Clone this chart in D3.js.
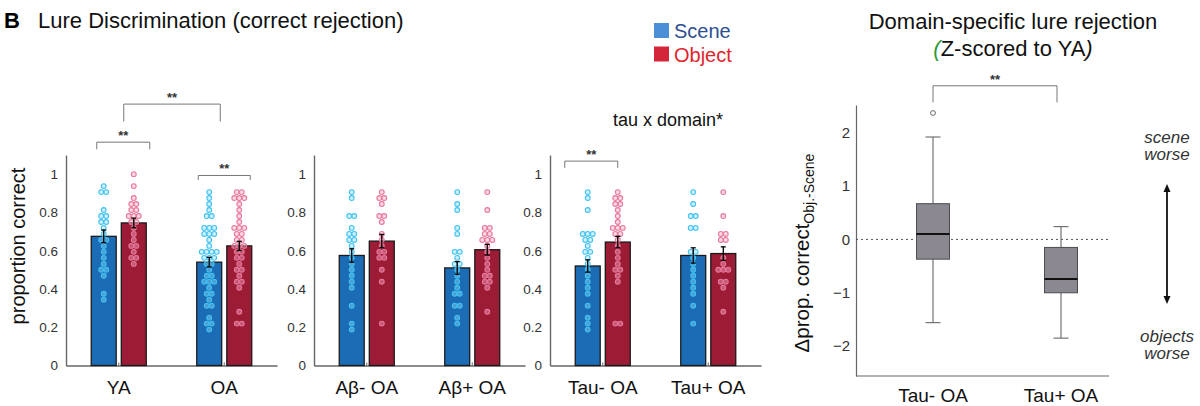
<!DOCTYPE html>
<html>
<head>
<meta charset="utf-8">
<script src="https://cdn.jsdelivr.net/npm/d3@7"></script>
<style>
  body { margin: 0; background: #fff; }
  svg { font-family: "Liberation Sans", Arial, sans-serif; }
</style>
</head>
<body>
<svg id="chart" width="1200" height="406"></svg>
<script>
// ---- data ----
const domains = ["Scene", "Object"];
const panelGroups = [["YA", "OA"], ["Aβ- OA", "Aβ+ OA"], ["Tau- OA", "Tau+ OA"]];
const sceneMeans  = [0.675, 0.54, 0.575, 0.51, 0.52, 0.575];
const objectMeans = [0.745, 0.625, 0.65, 0.605, 0.645, 0.585];
const sceneSem  = [0.033, 0.025, 0.035, 0.033, 0.032, 0.04];
const objectSem = [0.025, 0.024, 0.035, 0.028, 0.03, 0.035];

const sceneDots = [
  [0.9375, 0.906, 0.906, 0.8125, 0.781, 0.781, 0.75, 0.75, 0.719, 0.6875, 0.656, 0.656, 0.625, 0.594, 0.5625, 0.531, 0.5, 0.5, 0.469, 0.375, 0.344],
  [0.906, 0.875, 0.844, 0.8125, 0.781, 0.781, 0.719, 0.719, 0.719, 0.6875, 0.6875, 0.6875, 0.656, 0.625, 0.594, 0.594, 0.594, 0.594, 0.5625, 0.5625, 0.5625, 0.531, 0.531, 0.5, 0.469, 0.469, 0.438, 0.438, 0.438, 0.406, 0.375, 0.375, 0.344, 0.3125, 0.3125, 0.25, 0.219, 0.219, 0.1875],
  [0.906, 0.875, 0.781, 0.781, 0.719, 0.6875, 0.6875, 0.656, 0.656, 0.625, 0.594, 0.5625, 0.531, 0.5, 0.469, 0.438, 0.406, 0.3125, 0.219, 0.1875],
  [0.906, 0.844, 0.8125, 0.719, 0.6875, 0.594, 0.594, 0.5625, 0.531, 0.531, 0.5, 0.469, 0.438, 0.406, 0.375, 0.375, 0.3125, 0.3125, 0.25, 0.219],
  [0.906, 0.875, 0.8125, 0.6875, 0.6875, 0.6875, 0.656, 0.656, 0.625, 0.594, 0.594, 0.5625, 0.531, 0.5, 0.469, 0.438, 0.406, 0.375, 0.3125, 0.25, 0.219, 0.1875],
  [0.906, 0.844, 0.781, 0.781, 0.719, 0.719, 0.594, 0.594, 0.5625, 0.531, 0.5, 0.469, 0.438, 0.406, 0.375, 0.3125, 0.219]
];
const objectDots = [
  [1.0, 0.9375, 0.875, 0.844, 0.844, 0.8125, 0.8125, 0.781, 0.781, 0.781, 0.75, 0.75, 0.719, 0.6875, 0.656, 0.625, 0.625, 0.594, 0.5625, 0.5625, 0.531],
  [0.906, 0.906, 0.875, 0.875, 0.875, 0.844, 0.8125, 0.781, 0.75, 0.719, 0.719, 0.719, 0.6875, 0.6875, 0.656, 0.656, 0.625, 0.625, 0.625, 0.594, 0.594, 0.5625, 0.5625, 0.531, 0.5, 0.5, 0.469, 0.438, 0.438, 0.406, 0.281, 0.219, 0.219],
  [0.906, 0.875, 0.875, 0.844, 0.781, 0.781, 0.75, 0.6875, 0.656, 0.625, 0.594, 0.594, 0.5625, 0.5625, 0.5, 0.438, 0.219],
  [0.906, 0.8125, 0.719, 0.719, 0.6875, 0.6875, 0.656, 0.656, 0.656, 0.625, 0.594, 0.5625, 0.531, 0.5, 0.469, 0.469, 0.438, 0.438, 0.406, 0.281],
  [0.906, 0.875, 0.875, 0.844, 0.844, 0.8125, 0.781, 0.75, 0.719, 0.719, 0.719, 0.6875, 0.6875, 0.656, 0.625, 0.594, 0.5625, 0.531, 0.5, 0.5, 0.469, 0.438, 0.219, 0.219],
  [0.906, 0.781, 0.6875, 0.6875, 0.656, 0.656, 0.5625, 0.531, 0.5, 0.5, 0.5, 0.438, 0.438, 0.406, 0.281]
];
const yTicks = [0, 0.2, 0.4, 0.6, 0.8, 1];

// box plot panel
const boxGroups = ["Tau- OA", "Tau+ OA"];
const boxLow    = [-1.56, -1.85];
const boxQ1     = [-0.37, -1.0];
const boxMedian = [0.1, -0.74];
const boxQ3     = [0.67, -0.15];
const boxHigh   = [1.92, 0.24];
const boxOutliers = [[2.37], []];
const boxTicks = [-2, -1, 0, 1, 2];

// ---- layout ----
const svg = d3.select("#chart");
const colors = {
  bar: { Scene: "#1b6cb5", Object: "#9c1b35" },
  dot: { Scene: "#3fc2f2", Object: "#e8779b" },
  dotFill: { Scene: "#93dbf7", Object: "#f3abc1" },
  axis: "#666"
};
const panelX = [66, 314, 550];
const panelW = 211;
const y = d3.scaleLinear().domain([0, 1.1]).range([365.5, 155]);

// significance brackets (offsets from group centres)
const brackets = [
  { panel: 0, a: "YA", oa: -22, b: "YA", ob: 31, top: 1.167, drop: 1.13 },
  { panel: 0, a: "YA", oa: 5, b: "OA", ob: -4, top: 1.366, drop: 1.275 },
  { panel: 0, a: "OA", oa: -26, b: "OA", ob: 26, top: 0.993, drop: 0.97 },
  { panel: 2, a: "Tau- OA", oa: -38, b: "Tau- OA", ob: 15, top: 1.068, drop: 1.033 }
];

// title + legend
svg.append("text").attr("x", 4).attr("y", 28).attr("font-size", 22).attr("font-weight", "bold").text("B");
svg.append("text").attr("x", 38).attr("y", 28).attr("font-size", 22).attr("fill", "#111")
  .text("Lure Discrimination (correct rejection)");

const legend = svg.append("g").attr("transform", "translate(654,23)");
const legendSq = { Scene: "#4b8fd7", Object: "#d3263a" };
const legendTx = { Scene: "#2f4f92", Object: "#e2242c" };
domains.forEach((d, i) => {
  legend.append("rect").attr("x", 0).attr("y", i * 23.5).attr("width", 15).attr("height", 15).attr("fill", legendSq[d]);
  legend.append("text").attr("x", 20).attr("y", i * 23.5 + 15).attr("font-size", 20).attr("fill", legendTx[d]).text(d);
});

svg.append("text").attr("x", 668).attr("y", 126).attr("text-anchor", "middle").attr("font-size", 18).attr("fill", "#111")
  .text("tau x domain*");

// y label
svg.append("text").attr("transform", "translate(25,246) rotate(-90)").attr("text-anchor", "middle")
  .attr("font-size", 20).attr("fill", "#111").text("proportion correct");

function spread(values) {
  // side-by-side placement for equal values
  const counts = d3.rollup(values, v => v.length, v => v.toFixed(3));
  const seen = new Map();
  return values.map(v => {
    const k = v.toFixed(3), n = counts.get(k), i = seen.get(k) || 0;
    seen.set(k, i + 1);
    return { v, dx: (i - (n - 1) / 2) * 5 };
  });
}

panelGroups.forEach((groups, p) => {
  const g = svg.append("g");
  const x = d3.scaleBand().domain(groups).range([panelX[p], panelX[p] + panelW]);
  const sub = d3.scaleBand().domain(domains).range([-27.5, 27.5]).paddingInner(0.17);
  const cx = c => x(c) + x.bandwidth() / 2;

  const yAxis = g.append("g").attr("transform", `translate(${panelX[p]},0)`)
    .call(d3.axisLeft(y).tickValues(yTicks).tickSize(0).tickPadding(8)
      .tickFormat(d => d === 0 ? "0" : d === 1 ? "1" : d3.format(".1f")(d)));
  yAxis.select(".domain").attr("stroke", colors.axis).attr("stroke-width", 1.4);
  yAxis.selectAll("text").attr("font-size", 13.5).attr("fill", "#333").attr("font-family", null);

  const xAxis = g.append("g").attr("transform", `translate(0,${y(0)})`)
    .call(d3.axisBottom(x).tickSizeInner(-3).tickSizeOuter(0).tickPadding(15));
  xAxis.select(".domain").attr("stroke", colors.axis).attr("stroke-width", 1.4);
  xAxis.selectAll("line").attr("stroke", colors.axis);
  xAxis.selectAll("text").attr("font-size", 19).attr("fill", "#111").attr("font-family", null);

  groups.forEach((grp, j) => {
    const idx = p * 2 + j;
    domains.forEach(dom => {
      const mean = dom === "Scene" ? sceneMeans[idx] : objectMeans[idx];
      const sem = dom === "Scene" ? sceneSem[idx] : objectSem[idx];
      const dots = dom === "Scene" ? sceneDots[idx] : objectDots[idx];
      const bx = cx(grp) + sub(dom);
      const bc = bx + sub.bandwidth() / 2;

      g.append("rect").attr("x", bx).attr("y", y(mean)).attr("width", sub.bandwidth())
        .attr("height", y(0) - y(mean)).attr("fill", colors.bar[dom])
        .attr("stroke", "#1a1a1a").attr("stroke-width", 1.3);

      g.selectAll(null).data(spread(dots)).enter().append("circle")
        .attr("cx", d => bc + d.dx).attr("cy", d => y(d.v)).attr("r", 2.4)
        .attr("fill", colors.dotFill[dom]).attr("fill-opacity", 0.45)
        .attr("stroke", colors.dot[dom]).attr("stroke-width", 1.1);

      const eb = g.append("g").attr("stroke", "#000").attr("stroke-width", 1.3);
      eb.append("line").attr("x1", bc).attr("x2", bc).attr("y1", y(mean - sem)).attr("y2", y(mean + sem));
      eb.append("line").attr("x1", bc - 2.5).attr("x2", bc + 2.5).attr("y1", y(mean - sem)).attr("y2", y(mean - sem));
      eb.append("line").attr("x1", bc - 2.5).attr("x2", bc + 2.5).attr("y1", y(mean + sem)).attr("y2", y(mean + sem));
    });
  });

  brackets.filter(b => b.panel === p).forEach(b => {
    const x1 = cx(b.a) + b.oa, x2 = cx(b.b) + b.ob;
    g.append("path")
      .attr("d", `M${x1},${y(b.drop)}V${y(b.top)}H${x2}V${y(b.drop)}`)
      .attr("fill", "none").attr("stroke", "#777").attr("stroke-width", 1);
    g.append("text").attr("x", (x1 + x2) / 2).attr("y", y(b.top) - 2).attr("text-anchor", "middle")
      .attr("font-size", 13).attr("font-weight", "bold").attr("fill", "#333").text("**");
  });
});

// ---- box plot panel ----
const bp = svg.append("g");
const by = d3.scaleLinear().domain([-2.56, 2.52]).range([376, 105]);
const bx = d3.scalePoint().domain(boxGroups).range([933, 1061]);
const axisL = 856, axisR = 1109;

svg.append("text").attr("x", 1013).attr("y", 29).attr("text-anchor", "middle").attr("font-size", 22).attr("fill", "#111")
  .text("Domain-specific lure rejection");
const t2 = svg.append("text").attr("x", 1013).attr("y", 56).attr("text-anchor", "middle").attr("font-size", 22).attr("fill", "#111");
t2.append("tspan").attr("font-style", "italic").attr("fill", "#2a9a3a").text("(");
t2.append("tspan").text("Z-scored to YA");
t2.append("tspan").attr("font-style", "italic").text(")");

const byAxis = bp.append("g").attr("transform", `translate(${axisL},0)`)
  .call(d3.axisLeft(by).tickValues(boxTicks).tickSize(0).tickPadding(6).tickFormat(d3.format("d")));
byAxis.select(".domain").attr("stroke", colors.axis).attr("stroke-width", 1.2);
byAxis.selectAll("text").attr("font-size", 15).attr("fill", "#333").attr("font-family", null);
bp.append("line").attr("x1", axisL).attr("x2", axisR).attr("y1", by.range()[0]).attr("y2", by.range()[0])
  .attr("stroke", colors.axis).attr("stroke-width", 1.2);

bp.append("line").attr("x1", axisL).attr("x2", axisR + 1).attr("y1", by(0)).attr("y2", by(0))
  .attr("stroke", "#555").attr("stroke-width", 1).attr("stroke-dasharray", "2,3");

boxGroups.forEach((grp, i) => {
  const c = bx(grp), w = 33, cap = 7.5;
  const wg = bp.append("g").attr("stroke", "#666").attr("stroke-width", 1.1);
  wg.append("line").attr("x1", c).attr("x2", c).attr("y1", by(boxHigh[i])).attr("y2", by(boxQ3[i]));
  wg.append("line").attr("x1", c).attr("x2", c).attr("y1", by(boxQ1[i])).attr("y2", by(boxLow[i]));
  wg.append("line").attr("x1", c - cap).attr("x2", c + cap).attr("y1", by(boxHigh[i])).attr("y2", by(boxHigh[i]));
  wg.append("line").attr("x1", c - cap).attr("x2", c + cap).attr("y1", by(boxLow[i])).attr("y2", by(boxLow[i]));
  bp.append("rect").attr("x", c - w / 2).attr("width", w).attr("y", by(boxQ3[i])).attr("height", by(boxQ1[i]) - by(boxQ3[i]))
    .attr("fill", "#8b8892").attr("stroke", "#4d4d4d").attr("stroke-width", 1);
  bp.append("line").attr("x1", c - w / 2).attr("x2", c + w / 2).attr("y1", by(boxMedian[i])).attr("y2", by(boxMedian[i]))
    .attr("stroke", "#111").attr("stroke-width", 2);
  bp.selectAll(null).data(boxOutliers[i]).enter().append("circle")
    .attr("cx", c).attr("cy", d => by(d)).attr("r", 2.4).attr("fill", "none").attr("stroke", "#666").attr("stroke-width", 1);
  bp.append("text").attr("x", c).attr("y", 402).attr("text-anchor", "middle").attr("font-size", 19).attr("fill", "#111").text(grp);
});

// bracket between boxes
const bl = bx(boxGroups[0]), br = bx(boxGroups[1]) - 4;
bp.append("path").attr("d", `M${bl},${by(2.57)}V${by(2.88)}H${br}V${by(2.57)}`)
  .attr("fill", "none").attr("stroke", "#777").attr("stroke-width", 1);
bp.append("text").attr("x", (bl + br) / 2).attr("y", by(2.88) - 2).attr("text-anchor", "middle")
  .attr("font-size", 13).attr("font-weight", "bold").attr("fill", "#333").text("**");

// y label with subscript
const yl = svg.append("text").attr("transform", "translate(809,253) rotate(-90)").attr("text-anchor", "middle")
  .attr("font-size", 20.5).attr("fill", "#111");
yl.append("tspan").text("Δprop. correct");
yl.append("tspan").attr("font-size", 14).attr("dy", 5).text("Obj.-Scene");

// right-side annotation
const ann = svg.append("g").attr("font-size", 17).attr("font-style", "italic").attr("fill", "#333").attr("text-anchor", "middle");
ann.append("text").attr("x", 1167).attr("y", 143).text("scene");
ann.append("text").attr("x", 1167).attr("y", 160).text("worse");
ann.append("text").attr("x", 1167).attr("y", 342).text("objects");
ann.append("text").attr("x", 1167).attr("y", 359).text("worse");
svg.append("line").attr("x1", 1167).attr("x2", 1167).attr("y1", 190).attr("y2", 298).attr("stroke", "#111").attr("stroke-width", 1.8);
svg.append("path").attr("d", "M1167,184L1163.5,192H1170.5Z").attr("fill", "#111");
svg.append("path").attr("d", "M1167,304L1163.5,296H1170.5Z").attr("fill", "#111");
</script>
</body>
</html>
